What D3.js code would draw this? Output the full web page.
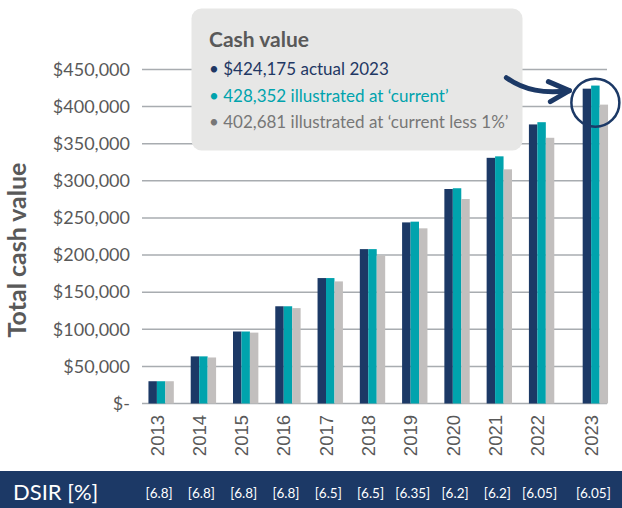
<!DOCTYPE html>
<html>
<head>
<meta charset="utf-8">
<script src="https://cdn.jsdelivr.net/npm/d3@7"></script>
<style>
  body { margin: 0; background: #fff; }
  svg { display: block; font-family: Lato, "Noto Sans", sans-serif; }
</style>
</head>
<body>
<div id="chart"></div>
<script>
// cash value by year, three illustrations
const years = [2013, 2014, 2015, 2016, 2017, 2018, 2019, 2020, 2021, 2022, 2023];
const actual = [30000, 63500, 97000, 131000, 169000, 208000, 244000, 289000, 331000, 376000, 424175];
const current = [30000, 63500, 97000, 131000, 169000, 208000, 245000, 290000, 333000, 379000, 428352];
const lessOne = [30000, 62000, 95500, 128500, 164500, 199500, 236000, 275500, 315500, 358000, 402681];
const dsir = ["6.8", "6.8", "6.8", "6.8", "6.5", "6.5", "6.35", "6.2", "6.2", "6.05", "6.05"];
const yTicks = [0, 50000, 100000, 150000, 200000, 250000, 300000, 350000, 400000, 450000];

const W = 622, H = 508;
const navy = "#1c3966";
const teal = "#00a3ad";
const grey = "#c2bfbe";
const textGrey = "#595959";
const lastGap = 11.5; // 2023 sits a little apart from the rest

const svg = d3.select("#chart").append("svg")
    .attr("width", W)
    .attr("height", H);

const x = d3.scaleBand()
    .domain(years)
    .range([140, 605])
    .paddingInner(0.4)
    .paddingOuter(0.2);

const xPos = d => x(d) + (d === years[years.length - 1] ? lastGap : 0);

const series = [
    { key: "actual", values: actual, color: navy },
    { key: "current", values: current, color: teal },
    { key: "less", values: lessOne, color: grey }
];

const xs = d3.scaleBand()
    .domain(series.map(s => s.key))
    .range([0, x.bandwidth()]);

const y = d3.scaleLinear()
    .domain([0, 450000])
    .range([403.5, 69.5]);

// gridlines
svg.append("g")
    .selectAll("line")
    .data(yTicks)
    .join("line")
    .attr("x1", 142)
    .attr("x2", 607)
    .attr("y1", d => y(d))
    .attr("y2", d => y(d))
    .attr("stroke", "#a8acb0")
    .attr("stroke-width", 1.5);

// y tick labels
const fmt = d3.format(",");
svg.append("g")
    .selectAll("text")
    .data(yTicks)
    .join("text")
    .attr("x", 130)
    .attr("y", d => y(d))
    .attr("dy", "0.35em")
    .attr("text-anchor", "end")
    .attr("font-size", 18)
    .attr("fill", textGrey)
    .text(d => d === 0 ? "$-" : "$" + fmt(d));

// y title
svg.append("text")
    .attr("transform", "translate(26,250) rotate(-90)")
    .attr("text-anchor", "middle")
    .attr("font-size", 25)
    .attr("font-weight", 700)
    .attr("fill", textGrey)
    .text("Total cash value");

// bars
const groups = svg.append("g")
    .selectAll("g")
    .data(years)
    .join("g")
    .attr("transform", d => `translate(${xPos(d)},0)`);

groups.selectAll("rect")
    .data((d, i) => series.map(s => ({ key: s.key, value: s.values[i], color: s.color })))
    .join("rect")
    .attr("x", d => xs(d.key))
    .attr("width", xs.bandwidth())
    .attr("y", d => y(d.value))
    .attr("height", d => y(0) - y(d.value))
    .attr("fill", d => d.color);

// x labels
svg.append("g")
    .selectAll("text")
    .data(years)
    .join("text")
    .attr("transform", d => `translate(${xPos(d) + x.bandwidth() / 2 - 4},415) rotate(-90)`)
    .attr("dy", "0.35em")
    .attr("text-anchor", "end")
    .attr("font-family", "'Liberation Sans', Arial, sans-serif")
    .attr("font-size", 18.5)
    .attr("fill", textGrey)
    .text(d => d);

// DSIR strip
svg.append("rect")
    .attr("x", 0)
    .attr("y", 471)
    .attr("width", W)
    .attr("height", H - 471)
    .attr("fill", navy);

svg.append("text")
    .attr("x", 13)
    .attr("y", 500)
    .attr("font-size", 22)
    .attr("fill", "#fff")
    .text("DSIR [%]");

svg.append("g")
    .selectAll("text")
    .data(years)
    .join("text")
    .attr("x", d => xPos(d) + x.bandwidth() / 2 - 2)
    .attr("y", 497.5)
    .attr("text-anchor", "middle")
    .attr("font-size", 13.5)
    .attr("fill", "#fff")
    .text((d, i) => `[${dsir[i]}]`);

// callout box
const last = years.length - 1;
const box = svg.append("g");
box.append("rect")
    .attr("x", 191.5)
    .attr("y", 8.5)
    .attr("width", 331)
    .attr("height", 142)
    .attr("rx", 10)
    .attr("fill", "#e7e7e6");

box.append("text")
    .attr("x", 209)
    .attr("y", 47)
    .attr("font-size", 21)
    .attr("font-weight", 700)
    .attr("fill", textGrey)
    .text("Cash value");

const lines = [
    { text: `$${fmt(actual[last])} actual ${years[last]}`, color: "#1f3864" },
    { text: `${fmt(current[last])} illustrated at ‘current’`, color: teal },
    { text: `${fmt(lessOne[last])} illustrated at ‘current less 1%’`, color: "#777777" }
];

box.selectAll("text.line")
    .data(lines)
    .join("text")
    .attr("class", "line")
    .attr("x", 209)
    .attr("y", (d, i) => 75 + i * 26.7)
    .attr("font-size", 17)
    .attr("fill", d => d.color)
    .text(d => "• " + d.text);

// circle + arrow on the 2023 group
const cx = xPos(years[last]) + x.bandwidth() / 2;
const cy = y(actual[last]) + 14;
const r = 24;

svg.append("circle")
    .attr("cx", cx)
    .attr("cy", cy)
    .attr("r", r)
    .attr("fill", "none")
    .attr("stroke", navy)
    .attr("stroke-width", 2.5);

const tipX = cx - r - 2, tipY = cy - 12;
svg.append("path")
    .attr("d", `M${tipX - 63},${tipY - 13} C${tipX - 45},${tipY} ${tipX - 25},${tipY + 3} ${tipX},${tipY}`)
    .attr("fill", "none")
    .attr("stroke", navy)
    .attr("stroke-width", 5)
    .attr("stroke-linecap", "round");

svg.append("path")
    .attr("d", `M${tipX - 21},${tipY - 9} L${tipX},${tipY} L${tipX - 19},${tipY + 11}`)
    .attr("fill", "none")
    .attr("stroke", navy)
    .attr("stroke-width", 5)
    .attr("stroke-linecap", "round")
    .attr("stroke-linejoin", "round");
</script>
</body>
</html>
